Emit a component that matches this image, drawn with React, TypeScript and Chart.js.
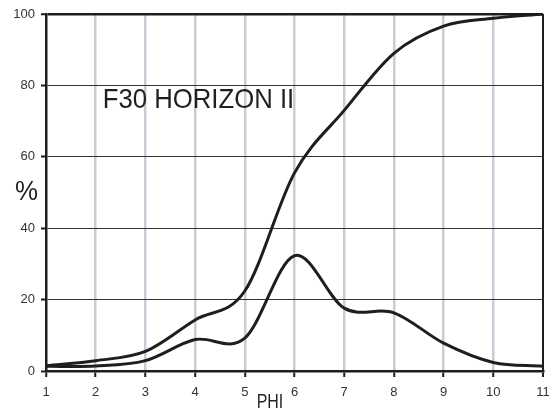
import React, { useEffect, useRef } from "react";
import { Chart, registerables } from "chart.js";

Chart.register(...registerables);

const phiValues = [1, 2, 3, 4, 5, 6, 7, 8, 9, 10, 11];
const cumulativeValues = [1.5, 2.9, 5.5, 14.3, 22.4, 55.5, 73, 89, 96.6, 98.8, 100];
const frequencyValues = [1.3, 1.4, 2.9, 8.8, 9.2, 32.3, 17.6, 16.3, 7.8, 2.4, 1.3];
const xTickValues = [1, 2, 3, 4, 5, 6, 7, 8, 9, 10, 11];
const yTickValues = [0, 20, 40, 60, 80, 100];
const titleText = "F30 HORIZON II";
const yAxisLabel = "%";
const xAxisLabel = "PHI";

const FONT = "'Liberation Sans', Arial, sans-serif";
const INK = "#1e1e1e";

function drawFitted(ctx: CanvasRenderingContext2D, text: string, font: string, x: number, y: number, width: number) {
  ctx.save();
  ctx.font = font;
  ctx.fillStyle = "#231f20";
  ctx.textBaseline = "alphabetic";
  ctx.textAlign = "left";
  const w = ctx.measureText(text).width;
  const s = width / w;
  ctx.translate(x, y);
  ctx.scale(s, 1);
  ctx.fillText(text, 0, 0);
  ctx.restore();
}

// Catmull-Rom style smoothing (like spreadsheet "smoothed line") on the points the scales placed
const smoothPlugin = {
  id: "smoothPlugin",
  beforeDatasetDraw(chart: any, args: any) {
    const meta = args.meta;
    const line = meta.dataset;
    if (!line) return;
    line.updateControlPoints(chart.chartArea, "x");
    const pts = meta.data;
    const n = pts.length;
    for (let i = 0; i < n; i++) {
      const p = pts[i];
      const prev = pts[Math.max(0, i - 1)];
      const next = pts[Math.min(n - 1, i + 1)];
      const k = i === 0 || i === n - 1 ? 1 / 3 : 1 / 6;
      const dx = (next.x - prev.x) * k;
      const dy = (next.y - prev.y) * k;
      p.cp1x = p.x - dx;
      p.cp1y = p.y - dy;
      p.cp2x = p.x + dx;
      p.cp2y = p.y + dy;
    }
  },
};

const labelsPlugin = {
  id: "labelsPlugin",
  afterDraw(chart: any) {
    const ctx = chart.ctx as CanvasRenderingContext2D;
    drawFitted(ctx, titleText, `28px ${FONT}`, 102.7, 107.7, 191.5);
    drawFitted(ctx, yAxisLabel, `28px ${FONT}`, 15, 200, 23);
    drawFitted(ctx, xAxisLabel, `20px ${FONT}`, 256.7, 408, 26.6);
  },
};

export default function App() {
  const ref = useRef<HTMLCanvasElement | null>(null);
  useEffect(() => {
    document.body.style.margin = "0";
    if (!ref.current) return;
    const chart = new Chart(ref.current, {
      type: "line",
      data: {
        datasets: [
          {
            label: "Cumulative",
            data: phiValues.map((x, i) => ({ x, y: cumulativeValues[i] })),
            borderColor: INK,
            borderWidth: 3,
            pointRadius: 0,
            fill: false,
            tension: 0.4,
            capBezierPoints: false,
          },
          {
            label: "Frequency",
            data: phiValues.map((x, i) => ({ x, y: frequencyValues[i] })),
            borderColor: INK,
            borderWidth: 3,
            pointRadius: 0,
            fill: false,
            tension: 0.4,
            capBezierPoints: false,
          },
        ],
      },
      options: {
        responsive: false,
        animation: false,
        events: [],
        layout: { padding: { left: 0, right: 9, top: 14, bottom: 0 } },
        plugins: { legend: { display: false }, tooltip: { enabled: false }, title: { display: false } },
        scales: {
          x: {
            type: "linear",
            min: 1,
            max: 11,
            afterBuildTicks: (scale: any) => {
              scale.ticks = xTickValues.map((v) => ({ value: v }));
            },
            afterFit: (scale: any) => {
              scale.height = 41;
              scale.paddingLeft = 0;
              scale.paddingRight = 0;
            },
            ticks: {
              font: { family: FONT, size: 13 },
              color: "#333333",
              padding: 8,
              maxRotation: 0,
              autoSkip: false,
            },
            grid: {
              color: (c: any) =>
                c.tick && c.tick.value === 1 ? "rgba(0,0,0,0)" : c.tick && c.tick.value === 11 ? INK : "#c8ccd6",
              lineWidth: (c: any) => (c.tick && c.tick.value === 11 ? 2 : 2.5),
              tickColor: INK,
              tickLength: 6,
              tickWidth: 2,
              drawTicks: true,
            },
            border: { color: INK, width: 2.5 },
          },
          y: {
            min: 0,
            max: 100,
            afterBuildTicks: (scale: any) => {
              scale.ticks = yTickValues.map((v) => ({ value: v }));
            },
            afterFit: (scale: any) => {
              scale.width = 46;
              scale.paddingTop = 0;
              scale.paddingBottom = 0;
            },
            ticks: {
              font: { family: FONT, size: 13 },
              color: "#333333",
              padding: 6,
            },
            grid: {
              color: (c: any) => (c.tick && c.tick.value === 100 ? INK : "#333333"),
              lineWidth: (c: any) => (c.tick && c.tick.value === 100 ? 2.5 : 1),
              tickColor: INK,
              tickLength: 5,
              tickWidth: 2,
            },
            border: { color: INK, width: 2.5 },
          },
        },
      },
      plugins: [smoothPlugin, labelsPlugin],
    } as any);
    return () => chart.destroy();
  }, []);
  return (
    <div style={{ position: "absolute", left: 0, top: 0, width: 552, height: 412, background: "#fff" }}>
      <canvas ref={ref} width={552} height={412} style={{ display: "block" }} />
    </div>
  );
}
